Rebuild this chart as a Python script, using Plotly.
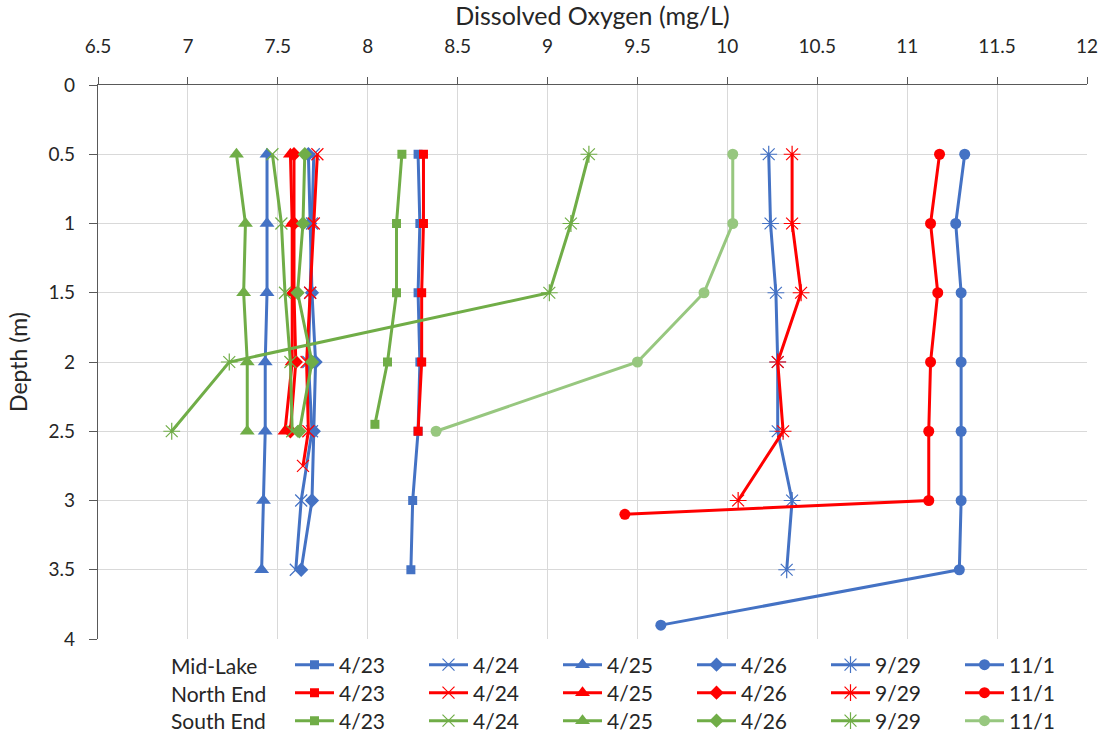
import plotly.graph_objects as go

# ---------------- data ----------------
depth_full = [0.5, 1, 1.5, 2, 2.5, 3, 3.5]
depth_mid_1101 = [0.5, 1, 1.5, 2, 2.5, 3, 3.5, 3.9]
depth_5 = [0.5, 1, 1.5, 2, 2.5]
depth_north_0424 = [0.5, 1, 1.5, 2, 2.5, 2.75]
depth_north_0929 = [0.5, 1, 1.5, 2, 2.5, 3]
depth_north_1101 = [0.5, 1, 1.5, 2, 2.5, 3, 3.1]
depth_south_0423 = [0.5, 1, 1.5, 2, 2.45]

mid_0423 = [8.28, 8.29, 8.28, 8.29, 8.28, 8.25, 8.24]
mid_0424 = [7.70, 7.69, 7.68, 7.67, 7.69, 7.63, 7.60]
mid_0425 = [7.44, 7.44, 7.44, 7.43, 7.43, 7.42, 7.41]
mid_0426 = [7.67, 7.68, 7.69, 7.71, 7.70, 7.69, 7.63]
mid_0929 = [10.23, 10.24, 10.27, 10.28, 10.28, 10.36, 10.33]
mid_1101 = [11.32, 11.27, 11.30, 11.30, 11.30, 11.30, 11.29, 9.63]

north_0423 = [8.31, 8.31, 8.30, 8.30, 8.28]
north_0424 = [7.72, 7.70, 7.68, 7.66, 7.67, 7.64]
north_0425 = [7.57, 7.58, 7.58, 7.58, 7.54]
north_0426 = [7.59, 7.59, 7.59, 7.60, 7.57]
north_0929 = [10.36, 10.36, 10.41, 10.28, 10.31, 10.06]
north_1101 = [11.18, 11.13, 11.17, 11.13, 11.12, 11.12, 9.43]

south_0423 = [8.19, 8.16, 8.16, 8.11, 8.04]
south_0424 = [7.47, 7.52, 7.54, 7.57, 7.58]
south_0425 = [7.27, 7.32, 7.31, 7.33, 7.33]
south_0426 = [7.65, 7.64, 7.61, 7.69, 7.62]
south_0929 = [9.23, 9.13, 9.01, 7.23, 6.91]
south_1101 = [10.03, 10.03, 9.87, 9.50, 8.38]

dates = ["4/23", "4/24", "4/25", "4/26", "9/29", "11/1"]
sites = ["Mid-Lake", "North End", "South End"]

x_title = "Dissolved Oxygen (mg/L)"
y_title = "Depth (m)"

# ---------------- styling ----------------
FONT = "Lato"
TXT = "#262626"
BLUE = "#4472C4"
RED = "#FF0000"
GREEN = "#70AD47"
LGREEN = "#97C77F"

symbols = {
    "4/23": dict(symbol="square", size=9),
    "4/24": dict(symbol="x-thin-open", size=12, line=dict(width=1.2)),
    "4/25": dict(symbol="triangle-up", size=13),
    "4/26": dict(symbol="diamond", size=11),
    "9/29": dict(symbol="asterisk-open", size=14, line=dict(width=1.2)),
    "11/1": dict(symbol="circle", size=11),
}

series = [
    ("Mid-Lake", "legend", BLUE, [
        ("4/23", mid_0423, depth_full),
        ("4/24", mid_0424, depth_full),
        ("4/25", mid_0425, depth_full),
        ("4/26", mid_0426, depth_full),
        ("9/29", mid_0929, depth_full),
        ("11/1", mid_1101, depth_mid_1101),
    ]),
    ("North End", "legend2", RED, [
        ("4/23", north_0423, depth_5),
        ("4/24", north_0424, depth_north_0424),
        ("4/25", north_0425, depth_5),
        ("4/26", north_0426, depth_5),
        ("9/29", north_0929, depth_north_0929),
        ("11/1", north_1101, depth_north_1101),
    ]),
    ("South End", "legend3", GREEN, [
        ("4/23", south_0423, depth_south_0423),
        ("4/24", south_0424, depth_5),
        ("4/25", south_0425, depth_5),
        ("4/26", south_0426, depth_5),
        ("9/29", south_0929, depth_5),
        ("11/1", south_1101, depth_5),
    ]),
]

fig = go.Figure()
for site, leg, color, items in series:
    for date, vals, deps in items:
        c = color
        if site == "South End" and date == "11/1":
            c = LGREEN
        m = dict(symbols[date])
        m["color"] = c
        if "line" in m:
            m["line"] = dict(m["line"], color=c)
        fig.add_trace(go.Scatter(
            x=vals, y=deps, mode="lines+markers", name=date,
            line=dict(color=c, width=3), marker=m, legend=leg,
            showlegend=True,
        ))

W, H = 1106, 740
L, R, T, B = 98, 19, 85, 101
pw = W - L - R
ph = H - T - B

row_y = [665, 693, 721]
LEG_FONT = 21
legend_common = dict(
    orientation="h", xanchor="left", yanchor="middle",
    xref="container", yref="container",
    font=dict(family=FONT, size=LEG_FONT, color=TXT),
    itemwidth=39,
    entrywidth=80, entrywidthmode="pixels",
    bgcolor="rgba(0,0,0,0)", itemclick=False, itemdoubleclick=False,
    tracegroupgap=0,
)

annotations = []
for i, site in enumerate(sites):
    annotations.append(dict(
        text=site, x=(169 - L) / pw, y=(H - B - row_y[i]) / ph,
        xref="paper", yref="paper", xanchor="left", yanchor="middle",
        showarrow=False, font=dict(family=FONT, size=LEG_FONT, color=TXT),
    ))

fig.update_layout(
    width=W, height=H,
    margin=dict(l=L, r=R, t=T, b=B, pad=0),
    paper_bgcolor="white", plot_bgcolor="white",
    font=dict(family=FONT, size=19, color=TXT),
    legend=dict(legend_common, x=290 / W, y=1 - row_y[0] / H),
    legend2=dict(legend_common, x=290 / W, y=1 - row_y[1] / H),
    legend3=dict(legend_common, x=290 / W, y=1 - row_y[2] / H),
    annotations=annotations,
    xaxis=dict(
        side="top", range=[6.5, 12], dtick=0.5, tick0=6.5,
        showgrid=True, gridcolor="#D9D9D9", gridwidth=1,
        showline=True, linecolor="#595959", linewidth=1.3,
        ticks="outside", ticklen=7, tickcolor="#595959", tickwidth=1.3,
        ticklabelstandoff=16,
        tickfont=dict(family=FONT, size=19, color=TXT),
        title=dict(text=x_title, font=dict(family=FONT, size=25, color=TXT), standoff=9),
        zeroline=False, automargin=False,
    ),
    yaxis=dict(
        range=[4, 0], dtick=0.5, tick0=0,
        showgrid=True, gridcolor="#D9D9D9", gridwidth=1,
        showline=True, linecolor="#595959", linewidth=1.3,
        ticks="outside", ticklen=8, tickcolor="#595959", tickwidth=1.3,
        ticklabelstandoff=10,
        tickfont=dict(family=FONT, size=19, color=TXT),
        title=dict(text=y_title, font=dict(family=FONT, size=23, color=TXT), standoff=14),
        zeroline=False, automargin=False,
    ),
)

fig.write_html("out.html")
